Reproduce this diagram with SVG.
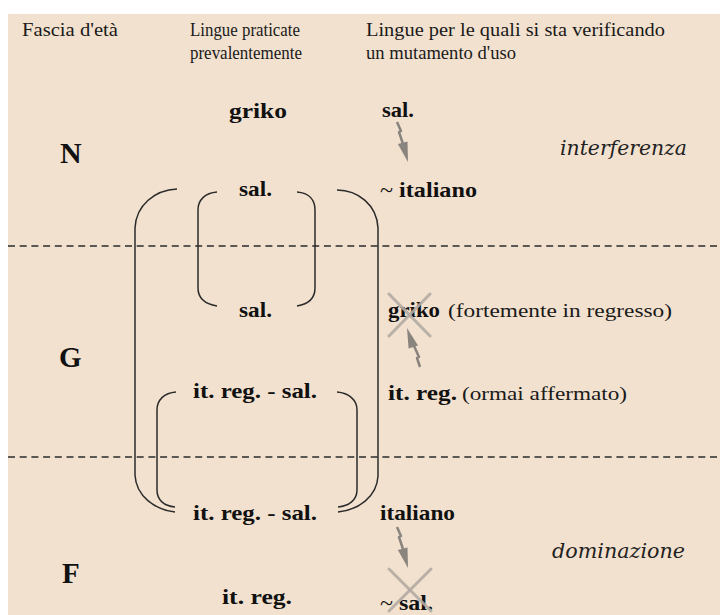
<svg xmlns="http://www.w3.org/2000/svg" width="720" height="615" viewBox="0 0 720 615">
<style>
.hd{font-family:"Liberation Serif","Times New Roman",serif;font-size:18px;fill:#1a1a1a}
.b{font-family:"Liberation Serif","Times New Roman",serif;font-size:22px;font-weight:bold;fill:#111}
.r{font-family:"Liberation Serif","Times New Roman",serif;font-size:19px;fill:#1a1a1a}
.big{font-family:"Liberation Serif","Times New Roman",serif;font-size:30px;font-weight:bold;fill:#111}
.it{font-family:"DejaVu Serif","Liberation Serif",serif;font-size:20px;font-style:italic;fill:#222}
.br{fill:none;stroke:#2b2b2b;stroke-width:1.5}
.dash{stroke:#2b2b2b;stroke-width:1.5;stroke-dasharray:7 4.7}
.shaft{fill:none;stroke:#8a847e;stroke-width:2.5;stroke-linejoin:round}
.head{fill:#8a847e}
.x{stroke:#b3aba3;stroke-width:3;stroke-linecap:round;opacity:0.9}
</style>
<rect x="0" y="0" width="720" height="615" fill="#ffffff"/>
<rect x="8" y="14" width="712" height="601" fill="#f2e1cf"/>

<g id="header">
<text class="hd" x="22" y="36" textLength="96" lengthAdjust="spacingAndGlyphs">Fascia d'età</text>
<text class="hd" x="190" y="36" textLength="110" lengthAdjust="spacingAndGlyphs">Lingue praticate</text>
<text class="hd" x="190" y="59" textLength="112" lengthAdjust="spacingAndGlyphs">prevalentemente</text>
<text class="hd" x="366" y="36" textLength="299" lengthAdjust="spacingAndGlyphs">Lingue per le quali si sta verificando</text>
<text class="hd" x="366" y="59" textLength="150" lengthAdjust="spacingAndGlyphs">un mutamento d'uso</text>
</g>

<g id="separators">
<line class="dash" x1="8" y1="246" x2="720" y2="246"/>
<line class="dash" x1="8" y1="457" x2="720" y2="457"/>
</g>

<g id="age-N">
<text class="big" x="60" y="163">N</text>
<text class="it" x="560" y="155" textLength="127" lengthAdjust="spacingAndGlyphs">interferenza</text>
</g>
<g id="age-G">
<text class="big" x="59" y="367" style="font-size:29px">G</text>
</g>
<g id="age-F">
<text class="big" x="62" y="583" style="font-size:29px">F</text>
<text class="it" x="552" y="558" textLength="133" lengthAdjust="spacingAndGlyphs">dominazione</text>
</g>

<g id="n-griko"><text class="b" x="229" y="118" textLength="58" lengthAdjust="spacingAndGlyphs">griko</text></g>
<g id="n-sal-top"><text class="b" x="382" y="117" textLength="32" lengthAdjust="spacingAndGlyphs">sal.</text></g>
<g id="n-sal-1"><text class="b" x="239" y="196" textLength="33" lengthAdjust="spacingAndGlyphs">sal.</text></g>
<g id="n-italiano-approx"><text class="b" x="380" y="197" textLength="97" lengthAdjust="spacingAndGlyphs"><tspan font-weight="normal">~</tspan> italiano</text></g>
<g id="n-sal-2"><text class="b" x="239" y="317" textLength="33" lengthAdjust="spacingAndGlyphs">sal.</text></g>
<g id="n-griko-G">
<text class="b" x="388" y="317" textLength="52" lengthAdjust="spacingAndGlyphs">griko</text>
<text class="r" x="448" y="317" textLength="224" lengthAdjust="spacingAndGlyphs">(fortemente in regresso)</text>
<line class="x" x1="389" y1="294" x2="430" y2="336"/>
<line class="x" x1="430" y1="294" x2="389" y2="336"/>
</g>
<g id="n-itreg-sal-1"><text class="b" x="193" y="398" textLength="124" lengthAdjust="spacingAndGlyphs">it. reg. - sal.</text></g>
<g id="n-itreg-G">
<text class="b" x="388" y="400" textLength="69" lengthAdjust="spacingAndGlyphs">it. reg.</text>
<text class="r" x="462" y="400" textLength="165" lengthAdjust="spacingAndGlyphs">(ormai affermato)</text>
</g>
<g id="n-itreg-sal-2"><text class="b" x="193" y="520" textLength="124" lengthAdjust="spacingAndGlyphs">it. reg. - sal.</text></g>
<g id="n-italiano"><text class="b" x="380" y="520" textLength="75" lengthAdjust="spacingAndGlyphs">italiano</text></g>
<g id="n-itreg-F"><text class="b" x="222" y="604" textLength="70" lengthAdjust="spacingAndGlyphs">it. reg.</text></g>
<g id="n-sal-F">
<text class="b" x="380" y="610" textLength="53" lengthAdjust="spacingAndGlyphs"><tspan font-weight="normal">~</tspan> sal.</text>
<line class="x" x1="389" y1="569" x2="431" y2="611"/>
<line class="x" x1="431" y1="569" x2="389" y2="611"/>
</g>

<g id="connectors">
<path class="br" d="M177,189 C155,190 136,205 135,228 L135,475 C136,496 155,510 175,512"/>
<path class="br" d="M337,190 C358,190 377,205 378,228 L378,476 C377,497 358,510 338,512"/>
<path class="br" d="M217,192 C205,193 198,200 198,210 L198,288 C198,298 205,304 217,306"/>
<path class="br" d="M297,192 C309,193 315,200 315,210 L315,288 C315,298 309,304 297,306"/>
<path class="br" d="M176,392 C164,393 157,400 157,410 L157,490 C157,500 164,506 175,507"/>
<path class="br" d="M337,392 C349,393 357,400 357,410 L357,490 C357,500 349,506 338,507"/>
<polyline class="shaft" points="397,122 401,131 399,132 403,144"/>
<polygon class="head" points="397.9,144 407.5,141.4 408,162"/>
<polyline class="shaft" points="420,367 417,358 419,357 414,346"/>
<polygon class="head" points="418,345.4 408.6,348.6 407,328"/>
<polyline class="shaft" points="397,527 401,536 399,537 403,549"/>
<polygon class="head" points="397.9,550 407.5,547.4 408,568"/>
</g>
</svg>
